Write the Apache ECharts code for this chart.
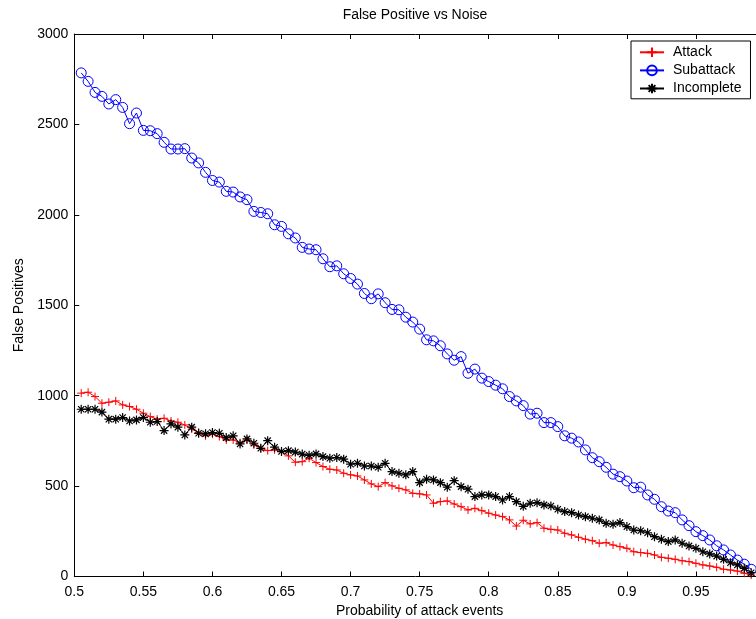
<!DOCTYPE html>
<html>
<head>
<meta charset="utf-8">
<script src="https://cdn.jsdelivr.net/npm/echarts@6/dist/echarts.min.js"></script>
<style>html,body{margin:0;padding:0;background:#fff}#c{width:756px;height:619px}</style>
</head>
<body>
<div id="c"></div>
<script>
const probability = [0.505,0.51,0.515,0.52,0.525,0.53,0.535,0.54,0.545,0.55,
0.555,0.56,0.565,0.57,0.575,0.58,0.585,0.59,0.595,0.6,
0.605,0.61,0.615,0.62,0.625,0.63,0.635,0.64,0.645,0.65,
0.655,0.66,0.665,0.67,0.675,0.68,0.685,0.69,0.695,0.7,
0.705,0.71,0.715,0.72,0.725,0.73,0.735,0.74,0.745,0.75,
0.755,0.76,0.765,0.77,0.775,0.78,0.785,0.79,0.795,0.8,
0.805,0.81,0.815,0.82,0.825,0.83,0.835,0.84,0.845,0.85,
0.855,0.86,0.865,0.87,0.875,0.88,0.885,0.89,0.895,0.9,
0.905,0.91,0.915,0.92,0.925,0.93,0.935,0.94,0.945,0.95,
0.955,0.96,0.965,0.97,0.975,0.98,0.985,0.99];

const attack = [1014,1019,995,958,964,971,949,940,925,903,
884,870,875,860,853,838,815,796,778,787,
774,755,755,740,755,728,709,696,700,691,
667,632,635,654,630,608,593,589,571,562,
556,534,512,497,519,501,488,479,460,457,
451,405,414,418,401,386,368,377,364,350,
340,331,313,279,311,291,298,267,261,257,
239,230,217,206,198,184,187,174,165,156,
137,132,128,119,106,101,95,87,82,73,
64,58,51,40,36,30,18,8];

const subattack = [2785,2738,2677,2655,2613,2637,2594,2504,2563,2467,
2465,2449,2401,2364,2364,2366,2314,2287,2235,2190,
2181,2130,2126,2099,2084,2019,2013,2006,1945,1936,
1895,1872,1820,1811,1807,1757,1713,1718,1674,1648,
1617,1565,1536,1563,1514,1477,1475,1434,1407,1368,
1309,1303,1276,1231,1196,1216,1124,1147,1097,1078,
1058,1038,995,971,945,898,903,851,851,829,
778,765,744,700,657,635,604,566,552,528,
491,494,451,427,386,362,353,313,281,248,
226,202,170,147,119,91,68,40];

const incomplete = [925,925,925,909,870,870,879,860,866,879,
853,857,807,844,826,783,826,792,789,796,
792,768,778,733,761,737,709,751,715,691,
696,688,677,670,678,663,654,658,649,621,
626,611,611,604,626,580,571,562,580,519,
538,534,519,494,530,497,483,442,451,451,
442,423,442,414,388,405,408,396,390,372,
359,353,340,331,322,313,294,289,298,276,
257,253,242,220,206,193,202,184,169,156,
137,125,113,95,76,64,45,21];

const seriesNames = ['Attack','Subattack','Incomplete'];
const xTickLabels = ['0.5','0.55','0.6','0.65','0.7','0.75','0.8','0.85','0.9','0.95',''];
const yTickLabels = ['0','500','1000','1500','2000','2500','3000'];
const titleText = 'False Positive vs Noise';
const xName = 'Probability of attack events';
const yName = 'False Positives';

const FONT = 'Liberation Sans, Arial, sans-serif';
const FS = 14;
const plusPath = 'path://M1,0V2M0,1H2';
const starPath = 'path://M1,0V2M0,1H2M0.3,0.3L1.7,1.7M0.3,1.7L1.7,0.3';

function pairs(vals){ return vals.map((v,i)=>[probability[i], v]); }

const chart = echarts.init(document.getElementById('c'), null, {renderer:'canvas'});
const axisCommon = {
  axisLine:{show:true, onZero:false, lineStyle:{color:'#000', width:1}},
  axisTick:{show:true, inside:true, length:5, lineStyle:{color:'#000'}},
  splitLine:{show:false}
};
chart.setOption({
  animation:false,
  backgroundColor:'#fff',
  graphic:[{type:'text', x:415, y:8, style:{text:titleText, font:FS + 'px ' + FONT, fill:'#000', textAlign:'center', textVerticalAlign:'top'}}],
  grid:{left:74.3, top:34, width:690.7, height:542.5, containLabel:false, outerBoundsMode:'none'},
  xAxis:[
    Object.assign({type:'value', min:0.5, max:1.0, interval:0.05, position:'bottom',
      name:xName, nameLocation:'middle', nameGap:22,
      nameTextStyle:{fontFamily:FONT, fontSize:FS, color:'#000'},
      axisLabel:{fontFamily:FONT, fontSize:FS, color:'#000', margin:9,
        formatter:(v)=>xTickLabels[Math.round((v-0.5)/0.05)]}}, axisCommon),
    Object.assign({type:'value', min:0.5, max:1.0, interval:0.05, position:'top',
      axisLabel:{show:false}}, axisCommon)
  ],
  yAxis:[
    Object.assign({type:'value', min:0, max:3000, interval:500, position:'left',
      name:yName, nameLocation:'middle', nameGap:48,
      nameTextStyle:{fontFamily:FONT, fontSize:FS, color:'#000'},
      axisLabel:{fontFamily:FONT, fontSize:FS, color:'#000', margin:6,
        formatter:(v)=>yTickLabels[Math.round(v/500)]}}, axisCommon)
  ],
  legend:{
    orient:'vertical', left:631, top:41,
    backgroundColor:'#fff', borderColor:'#000', borderWidth:1,
    padding:[4,9,3,8], itemGap:3.5, itemWidth:24, itemHeight:12,
    textStyle:{fontFamily:FONT, fontSize:FS, lineHeight:14, color:'#000', padding:[0,0,0,4]},
    data:seriesNames
  },
  series:[
    {name:seriesNames[0], type:'line', data:pairs(attack), symbol:plusPath, symbolSize:8,
      lineStyle:{color:'#ff0000', width:1}, itemStyle:{color:'none', borderColor:'#ff0000', borderWidth:1}, z:3},
    {name:seriesNames[1], type:'line', data:pairs(subattack), symbol:'circle', symbolSize:10,
      lineStyle:{color:'#0000ff', width:1}, itemStyle:{color:'none', borderColor:'#0000ff', borderWidth:1}, z:2},
    {name:seriesNames[2], type:'line', data:pairs(incomplete), symbol:starPath, symbolSize:9,
      lineStyle:{color:'#000', width:1}, itemStyle:{color:'none', borderColor:'#000', borderWidth:1.2}, z:4}
  ]
});
</script>
</body>
</html>
